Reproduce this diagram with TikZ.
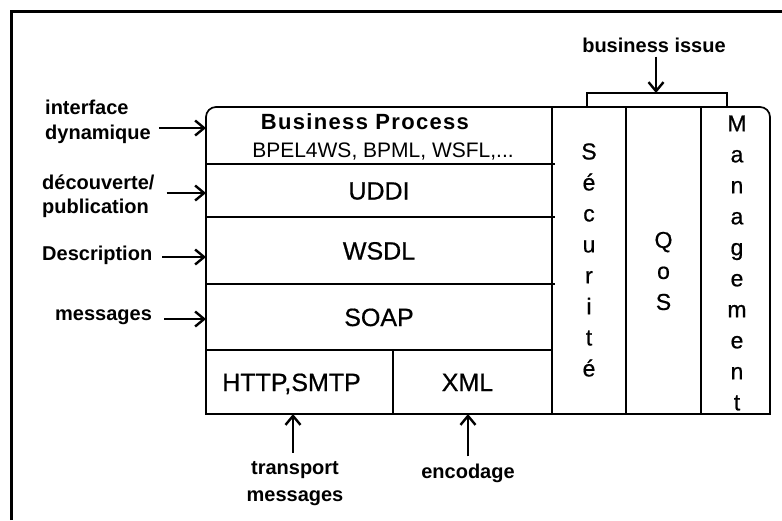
\documentclass[tikz,border=0pt]{standalone}
\usepackage{fontspec}
\setmainfont{Liberation Sans}
\usetikzlibrary{arrows.meta}
\begin{document}
\begin{tikzpicture}[x=1pt,y=-1pt,
  cell/.style={rectangle, inner sep=0pt, outer sep=0pt},
  grid/.style={line width=1.7pt},
  lbl/.style={font=\fontsize{20}{24}\selectfont\bfseries, inner sep=0pt, align=left},
  layer/.style={font=\fontsize{25}{28}\selectfont\addfontfeatures{FakeBold=0.6}, text height=18pt, text depth=0pt},
  vert/.style={font=\fontsize{23}{31}\selectfont\addfontfeatures{FakeBold=0.6}, inner sep=0pt, align=center},
  arr/.style={line width=2.4pt, -{Straight Barb[length=9pt,width=15pt]}}]
\useasboundingbox (0,0) rectangle (782,520);
\fill[white] (0,0) rectangle (782,520);
% page frame: left and top rules only
\draw[line width=3pt] (11,520) -- (11,11) -- (782,11);

% protocol stack cells
\node[cell, minimum width=346pt, minimum height=57pt] (bp) at (379,135.5) {};
\node[cell, layer, minimum width=346pt, minimum height=53pt] (uddi) at (379,190.5) {UDDI};
\node[cell, layer, minimum width=346pt, minimum height=67pt] (wsdl) at (379,250.5) {WSDL};
\node[cell, layer, minimum width=346pt, minimum height=66pt] (soap) at (379,317) {SOAP};
\node[cell, layer, minimum width=187pt, minimum height=64pt] (http) at (299.5,382) {\hspace*{-16pt}HTTP,SMTP};
\node[cell, layer, minimum width=159pt, minimum height=64pt] (xml) at (472.5,382) {\hspace*{-10pt}XML};
% transversal columns
\node[cell, minimum width=74pt, minimum height=307pt] (sec) at (589,260.5) {};
\node[cell, minimum width=75pt, minimum height=307pt] (qos) at (663.5,260.5) {};
\node[cell, minimum width=69pt, minimum height=307pt] (mgmt) at (735.5,260.5) {};

% outline with rounded top corners
\draw[grid] (bp.north west) ++(0,10) arc[start angle=180,end angle=270,radius=10]
  -- ([xshift=-10pt]mgmt.north east) arc[start angle=270,end angle=360,radius=10]
  -- (mgmt.south east) -- (http.south west) -- cycle;
% layer separators
\draw[grid] (bp.south west) -- ([xshift=3pt]bp.south east);
\draw[grid] (uddi.south west) -- ([xshift=3pt]uddi.south east);
\draw[grid] (wsdl.south west) -- ([xshift=3pt]wsdl.south east);
\draw[grid] (soap.south west) -- (soap.south east);
\draw[grid] (http.north east) -- (http.south east);
\draw[grid] (sec.north west) -- (sec.south west);
\draw[grid] (qos.north west) -- (qos.south west);
\draw[grid] (mgmt.north west) -- (mgmt.south west);

% business process layer text
\node[font=\fontsize{22}{26}\selectfont\bfseries\addfontfeatures{LetterSpace=6}, inner sep=0pt] (bpt) at (365,122) {Business Process};
\node[font=\fontsize{21}{24}\selectfont, inner sep=0pt] (bpl) at (383,152) {BPEL4WS, BPML, WSFL,...};

% vertical column titles
\node[vert] (sect) at (589,260) {S\\é\\c\\u\\r\\i\\t\\é};
\node[vert] (qost) at (663.5,271) {Q\\o\\S};
\node[vert] (mgmtt) at (737,263) {M\\a\\n\\a\\g\\e\\m\\e\\n\\t};

% left annotations
\node[lbl, anchor=west, font=\fontsize{20}{25}\selectfont\bfseries] (l1) at (45,122) {interface\\dynamique};
\node[lbl, anchor=west] (l2) at (42,196) {découverte/\\publication};
\node[lbl, anchor=west] (l3) at (42,255) {Description};
\node[lbl, anchor=west] (l4) at (55,317) {messages};
\draw[arr] ([xshift=8pt,yshift=-6pt]l1.east) -- ([yshift=7.5pt]bp.west);
\draw[arr] ([xshift=12pt,yshift=3pt]l2.east) -- ([yshift=-2.5pt]uddi.west);
\draw[arr] ([xshift=10pt,yshift=-2pt]l3.east) -- ([yshift=-6.5pt]wsdl.west);
\draw[arr] ([xshift=12pt,yshift=-2pt]l4.east) -- ([yshift=-2pt]soap.west);

% bottom annotations
\node[lbl, align=center, font=\fontsize{20}{27}\selectfont\bfseries] (b1) at (295,484) {transport\\messages};
\node[lbl] (b2) at (468,473) {encodage};
\draw[arr] ([xshift=-2pt,yshift=9pt]b1.north) -- ([xshift=-2pt]b1.north |- http.south);
\draw[arr] ([yshift=7pt]b2.north) -- (b2.north |- xml.south);

% cross-cutting concerns bracket
\node[lbl] (bi) at (654,45) {business issue};
\coordinate (brl) at ([xshift=-2pt,yshift=14pt]sec.north);
\coordinate (brr) at ([xshift=-8.5pt,yshift=14pt]mgmt.north);
\draw[grid] (brl |- sec.north) -- (brl) -- (brr) -- (brr |- mgmt.north);
\draw[arr] ([xshift=2pt,yshift=-4pt]bi.south) -- ([xshift=2pt]bi.south |- brl);
\end{tikzpicture}
\end{document}
